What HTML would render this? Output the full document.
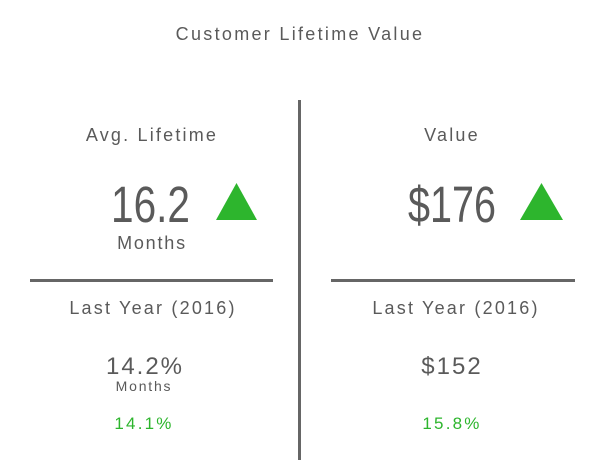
<!DOCTYPE html>
<html><head><meta charset="utf-8"><style>
html,body{margin:0;padding:0;background:#fff;width:600px;height:463px;overflow:hidden}
svg text{font-family:"Liberation Sans",sans-serif;fill:#5a5a5a;text-anchor:middle;letter-spacing:1.8px}
</style></head><body>
<svg width="600" height="463">
<text x="300" y="40" font-size="18" style="letter-spacing:2.3px">Customer Lifetime Value</text>
<rect x="298" y="100" width="3" height="360" fill="#666"/>
<rect x="30" y="279" width="243" height="3" fill="#666"/>
<rect x="331" y="279" width="244" height="3" fill="#666"/>

<text x="152" y="141" font-size="18" style="letter-spacing:2.2px">Avg. Lifetime</text>
<text x="111" y="222" font-size="51" style="letter-spacing:0;text-anchor:start" textLength="79" lengthAdjust="spacingAndGlyphs">16.2</text>
<polygon points="216,220 257,220 236.5,183" fill="#2db52d"/>
<text x="152" y="249" font-size="18">Months</text>
<text x="153" y="314" font-size="18" style="letter-spacing:2.2px">Last Year (2016)</text>
<text x="145" y="374" font-size="24" style="letter-spacing:2px">14.2%</text>
<text x="144" y="391" font-size="14">Months</text>
<text x="144" y="429" font-size="17" style="fill:#2db52d;letter-spacing:2.2px">14.1%</text>

<text x="452" y="141" font-size="18" style="letter-spacing:2.2px">Value</text>
<text x="408" y="222" font-size="51" style="letter-spacing:0;text-anchor:start" textLength="88" lengthAdjust="spacingAndGlyphs">$176</text>
<polygon points="520,220 563,220 541.5,183" fill="#2db52d"/>
<text x="456" y="314" font-size="18" style="letter-spacing:2.2px">Last Year (2016)</text>
<text x="452" y="374" font-size="24" style="letter-spacing:2px">$152</text>
<text x="452" y="429" font-size="17" style="fill:#2db52d;letter-spacing:2.2px">15.8%</text>
</svg>
</body></html>
